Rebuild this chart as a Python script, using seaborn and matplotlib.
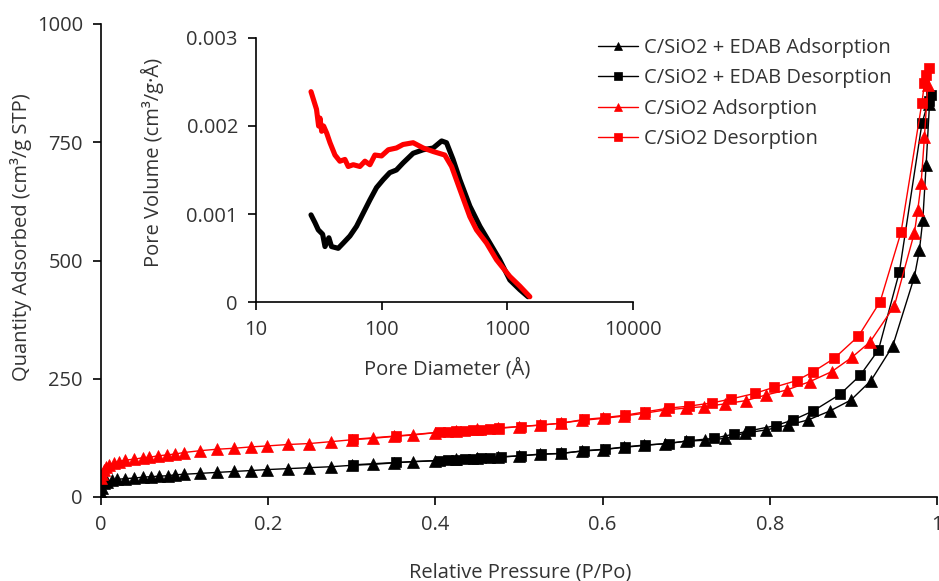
import numpy as np
import pandas as pd
import seaborn as sns
import matplotlib
matplotlib.use("Agg")
import matplotlib.pyplot as plt
from matplotlib.ticker import FixedLocator, FuncFormatter, NullLocator

# ---------------- data ----------------
# C/SiO2 adsorption (red triangles)
red_ads_x = [0.000, 0.001, 0.003, 0.006, 0.009, 0.015, 0.021, 0.029, 0.040, 0.050, 0.058, 0.068,
             0.079, 0.089, 0.099, 0.119, 0.139, 0.159, 0.180, 0.199, 0.224, 0.249, 0.275, 0.300,
             0.325, 0.350, 0.373, 0.400, 0.425, 0.450, 0.475, 0.500, 0.525, 0.550, 0.575, 0.600,
             0.625, 0.650, 0.675, 0.700, 0.721, 0.747, 0.772, 0.796, 0.820, 0.848, 0.874, 0.898,
             0.920, 0.949, 0.973, 0.977, 0.981, 0.985, 0.989]
red_ads_y = [40, 48, 57, 64, 68, 71, 75, 78, 80, 83, 84, 87,
             89, 91, 94, 98, 101, 103, 106, 108, 111, 113, 117, 121,
             124, 128, 131, 136, 140, 143, 146, 149, 152, 156, 162, 166,
             171, 177, 184, 188, 191, 197, 204, 216, 226, 244, 265, 295,
             328, 404, 559, 607, 663, 762, 870]
# C/SiO2 desorption (red squares)
red_des_x = [0.991, 0.987, 0.985, 0.982, 0.957, 0.932, 0.906, 0.877, 0.852, 0.832, 0.805, 0.782,
             0.753, 0.731, 0.703, 0.679, 0.651, 0.627, 0.603, 0.578, 0.550, 0.526, 0.502, 0.476,
             0.465, 0.455, 0.445, 0.435, 0.425, 0.415, 0.405, 0.353, 0.301]
red_des_y = [906, 892, 875, 834, 560, 413, 340, 293, 265, 246, 232, 219,
             207, 199, 192, 188, 180, 173, 168, 164, 156, 152, 149, 145,
             143, 142, 141, 140, 139, 138, 137, 129, 122]
# C/SiO2 + EDAB adsorption (black triangles)
blk_ads_x = [0.000, 0.001, 0.003, 0.007, 0.013, 0.019, 0.029, 0.040, 0.050, 0.060, 0.069, 0.080,
             0.089, 0.099, 0.119, 0.139, 0.159, 0.180, 0.199, 0.224, 0.249, 0.275, 0.300, 0.325,
             0.350, 0.373, 0.400, 0.425, 0.450, 0.475, 0.500, 0.525, 0.550, 0.575, 0.600, 0.625,
             0.650, 0.675, 0.700, 0.723, 0.747, 0.770, 0.796, 0.822, 0.846, 0.872, 0.897, 0.921,
             0.947, 0.973, 0.979, 0.983, 0.987, 0.991]
blk_ads_y = [8, 18, 29, 32, 36, 37, 39, 40, 42, 43, 44, 45,
             47, 48, 50, 52, 54, 56, 58, 60, 62, 64, 67, 69,
             72, 75, 77, 80, 82, 84, 87, 90, 92, 97, 100, 105,
             109, 113, 118, 120, 124, 135, 142, 152, 163, 182, 205, 246,
             319, 466, 522, 586, 702, 830]
# C/SiO2 + EDAB desorption (black squares)
blk_des_x = [0.993, 0.990, 0.982, 0.955, 0.930, 0.908, 0.884, 0.852, 0.828, 0.807, 0.776, 0.757,
             0.733, 0.703, 0.679, 0.651, 0.627, 0.603, 0.578, 0.550, 0.526, 0.502, 0.478, 0.465,
             0.455, 0.445, 0.435, 0.425, 0.415, 0.405, 0.353, 0.301]
blk_des_y = [850, 838, 790, 476, 311, 257, 217, 182, 163, 151, 140, 133,
             124, 119, 113, 110, 106, 101, 98, 92, 91, 87, 85, 83,
             82, 81, 80, 79, 78, 77, 73, 68]

# Inset: pore size distribution
psd_red_d = [27.4, 30.3, 31.5, 32.3, 33.3, 34.5, 36.5, 38.8, 42.5, 46.5, 51.0, 54.2, 59.4, 67.1,
             73.6, 80.6, 88.3, 99.8, 113, 131, 148, 178, 214, 257, 318, 360, 419, 503, 568,
             683, 820, 1047, 1257, 1510]
psd_red_v = [0.00239, 0.00219, 0.00200, 0.00209, 0.00194, 0.00200, 0.00192, 0.00181, 0.00167,
             0.00160, 0.00162, 0.00154, 0.00156, 0.00154, 0.00160, 0.00156, 0.00167, 0.00166,
             0.00173, 0.00175, 0.00179, 0.00181, 0.00175, 0.00171, 0.00167, 0.00154, 0.00128,
             0.00097, 0.00082, 0.00067, 0.00048, 0.00029, 0.00018, 0.00006]
psd_blk_d = [27.4, 29.5, 31.3, 33.9, 35.4, 38.0, 39.9, 45.1, 49.5, 55.9, 63.1, 71.3, 80.6, 91.0,
             102.8, 116, 131, 148, 178, 214, 257, 300, 328, 370, 419, 503, 605, 726, 870,
             1047, 1257, 1460]
psd_blk_v = [0.00099, 0.00090, 0.00082, 0.00077, 0.00063, 0.00073, 0.00063, 0.00061, 0.00067,
             0.00075, 0.00086, 0.00101, 0.00116, 0.00130, 0.00139, 0.00147, 0.00150, 0.00158,
             0.00169, 0.00173, 0.00175, 0.00183, 0.00181, 0.00162, 0.00139, 0.00109, 0.00086,
             0.00067, 0.00048, 0.00025, 0.00014, 0.00006]

main_xticks = [0, 0.2, 0.4, 0.6, 0.8, 1.0]
main_xticklabels = ["0", "0.2", "0.4", "0.6", "0.8", "1"]
main_yticks = [0, 250, 500, 750, 1000]
inset_xticks = [10, 100, 1000, 10000]
inset_yticks = [0, 0.001, 0.002, 0.003]
inset_yticklabels = ["0", "0.001", "0.002", "0.003"]

series_labels = ["C/SiO2 + EDAB Adsorption", "C/SiO2 + EDAB Desorption",
                 "C/SiO2 Adsorption", "C/SiO2 Desorption"]

# ---------------- style ----------------
sns.set_style("ticks")
plt.rcParams["font.family"] = ["Open Sans", "DejaVu Sans"]
TXT = "#333333"
FS = 14.5
RED = "#FF0000"

W, H = 939, 581
fig = plt.figure(figsize=(W / 100, H / 100), dpi=100)

def px_rect(l, t, r, b):
    return [l / W, 1 - b / H, (r - l) / W, (b - t) / H]

ax = fig.add_axes(px_rect(101, 24, 937, 497))

specs = [
    (blk_ads_x, blk_ads_y, "black", "^", series_labels[0]),
    (blk_des_x, blk_des_y, "black", "s", series_labels[1]),
    (red_ads_x, red_ads_y, RED, "^", series_labels[2]),
    (red_des_x, red_des_y, RED, "s", series_labels[3]),
]
for xs, ys, c, m, lab in specs:
    sns.lineplot(x=xs, y=ys, ax=ax, sort=False, color=c, marker=m,
                 markersize=8 if m == "^" else 7.5, markeredgecolor=c,
                 markeredgewidth=0.5, linewidth=1.0, label=lab)

ax.set_xlim(0, 1)
ax.set_ylim(0, 1000)
ax.xaxis.set_major_locator(FixedLocator(main_xticks))
ax.set_xticklabels(main_xticklabels)
ax.yaxis.set_major_locator(FixedLocator(main_yticks))
ax.tick_params(axis="both", direction="out", length=6, width=1.2, colors="black",
               labelcolor=TXT, labelsize=FS, pad=7)
for sp in ["left", "bottom"]:
    ax.spines[sp].set_linewidth(1.2)
    ax.spines[sp].set_color("black")
sns.despine(ax=ax)
ax.set_xlabel("Relative Pressure (P/Po)", fontsize=FS, color=TXT)
ax.set_ylabel("Quantity Adsorbed (cm³/g STP)", fontsize=FS, color=TXT)
ax.xaxis.set_label_coords(0.501, -0.138)
ax.yaxis.set_label_coords(-0.082, 0.55)

leg = ax.legend(loc="upper left", bbox_to_anchor=(598 / W, 1 - 38 / H),
                bbox_transform=fig.transFigure, frameon=False, fontsize=FS,
                borderpad=0, borderaxespad=0, handlelength=2.0, handletextpad=0.3,
                labelspacing=0.52)
for t in leg.get_texts():
    t.set_color(TXT)
for h in leg.legend_handles:
    h.set_markersize(6)

# ---------------- inset ----------------
ins = fig.add_axes(px_rect(256, 38, 633, 302))
sns.lineplot(x=psd_blk_d, y=psd_blk_v, ax=ins, sort=False, color="black", linewidth=3.7)
sns.lineplot(x=psd_red_d, y=psd_red_v, ax=ins, sort=False, color=RED, linewidth=3.7)
ins.set_xscale("log")
ins.set_xlim(10, 10000)
ins.set_ylim(0, 0.003)
ins.xaxis.set_major_locator(FixedLocator(inset_xticks))
ins.xaxis.set_major_formatter(FuncFormatter(lambda v, p: f"{int(round(v))}"))
ins.xaxis.set_minor_locator(NullLocator())
ins.yaxis.set_major_locator(FixedLocator(inset_yticks))
ins.set_yticklabels(inset_yticklabels)
ins.tick_params(axis="both", direction="out", length=6, width=1.2, colors="black",
                labelcolor=TXT, labelsize=FS, pad=7)
for sp in ["left", "bottom"]:
    ins.spines[sp].set_linewidth(1.2)
    ins.spines[sp].set_color("black")
sns.despine(ax=ins)
ins.patch.set_alpha(0)
ins.set_xlabel("Pore Diameter (Å)", fontsize=FS, color=TXT)
ins.set_ylabel("Pore Volume (cm³/g·Å)", fontsize=FS, color=TXT)
ins.xaxis.set_label_coords(0.507, -0.21)
ins.yaxis.set_label_coords(-0.245, 0.527)

fig.savefig("out.png", dpi=100)
